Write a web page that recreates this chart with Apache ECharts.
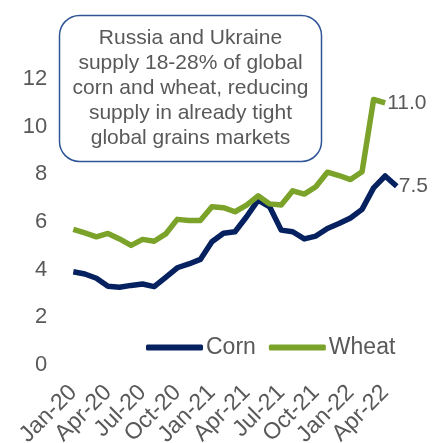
<!DOCTYPE html>
<html>
<head>
<meta charset="utf-8">
<script src="https://cdn.jsdelivr.net/npm/echarts@6/dist/echarts.min.js"></script>
<style>
  html, body { margin: 0; padding: 0; background: #ffffff; }
  #chart { width: 436px; height: 443px; }
</style>
</head>
<body>
<div id="chart"></div>
<script>
// Monthly grain prices, Jan-20 to May-22
const months = [
  'Jan-20','Feb-20','Mar-20','Apr-20','May-20','Jun-20','Jul-20','Aug-20','Sep-20','Oct-20','Nov-20','Dec-20',
  'Jan-21','Feb-21','Mar-21','Apr-21','May-21','Jun-21','Jul-21','Aug-21','Sep-21','Oct-21','Nov-21','Dec-21',
  'Jan-22','Feb-22','Mar-22','Apr-22','May-22'
];
const corn = [
  3.91, 3.82, 3.64, 3.30, 3.26, 3.34, 3.40, 3.29, 3.68, 4.08, 4.24, 4.43,
  5.17, 5.53, 5.59, 6.22, 6.92, 6.64, 5.66, 5.59, 5.29, 5.41, 5.73, 5.94,
  6.17, 6.53, 7.43, 7.93, 7.5
];
const wheat = [
  5.69, 5.54, 5.38, 5.52, 5.29, 5.02, 5.27, 5.19, 5.50, 6.11, 6.06, 6.06,
  6.64, 6.60, 6.43, 6.71, 7.10, 6.76, 6.71, 7.31, 7.17, 7.48, 8.09, 7.95,
  7.78, 8.11, 11.14, 11.0
];
const yTicks = { min: 0, max: 12, step: 2 };
const note = 'Russia and Ukraine\nsupply 18-28% of global\ncorn and wheat, reducing\nsupply in already tight\nglobal grains markets';

const TEXT = '#595959';
const FONT = 'Liberation Sans';

// value label at the end of each line
const endLabel = {
  show: true, distance: 2,
  formatter: p => Number(p.value).toFixed(1),
  color: TEXT, fontSize: 21, fontFamily: FONT
};

const chart = echarts.init(document.getElementById('chart'), null, { renderer: 'canvas' });
chart.setOption({
  animation: false,
  backgroundColor: '#ffffff',
  textStyle: { fontFamily: FONT },
  // fixed plot area; the rotated month labels may run past the bottom edge
  grid: { left: 73.3, right: 39.3, top: 79, bottom: 78, containLabel: false, outerBoundsMode: 'none' },
  legend: {
    left: 141, top: 331,
    icon: 'roundRect', itemWidth: 57, itemHeight: 6, itemGap: 13,
    textStyle: { color: TEXT, fontSize: 23, fontFamily: FONT, padding: [0, 0, 0, -2] },
    data: ['Corn', 'Wheat']
  },
  xAxis: {
    type: 'category',
    data: months,
    boundaryGap: false,
    axisLine: { show: false },
    axisTick: { show: false },
    axisLabel: {
      interval: 2, rotate: 45, margin: 24,
      color: TEXT, fontSize: 23, fontFamily: FONT
    },
    splitLine: { show: false }
  },
  yAxis: {
    type: 'value',
    min: yTicks.min, max: yTicks.max, interval: yTicks.step,
    axisLine: { show: false },
    axisTick: { show: false },
    splitLine: { show: false },
    axisLabel: { margin: 26, color: TEXT, fontSize: 22, fontFamily: FONT }
  },
  series: [
    {
      name: 'Corn', type: 'line', data: corn,
      symbol: 'none', color: '#06215F',
      lineStyle: { width: 5.5, color: '#06215F', join: 'round' },
      endLabel: endLabel
    },
    {
      name: 'Wheat', type: 'line', data: wheat,
      symbol: 'none', color: '#7BA32A',
      lineStyle: { width: 5.5, color: '#7BA32A', join: 'round' },
      endLabel: endLabel
    }
  ],
  graphic: [
    {
      type: 'rect', z: 10,
      shape: { x: 59.5, y: 15.5, width: 262, height: 146, r: 20 },
      style: { fill: '#ffffff', stroke: '#2F5597', lineWidth: 1.5 }
    },
    {
      type: 'text', z: 11,
      x: 190.5, y: 88.5,
      style: {
        text: note, fill: TEXT, font: '21px ' + FONT,
        align: 'center', verticalAlign: 'middle', lineHeight: 25
      }
    }
  ]
});
</script>
</body>
</html>
